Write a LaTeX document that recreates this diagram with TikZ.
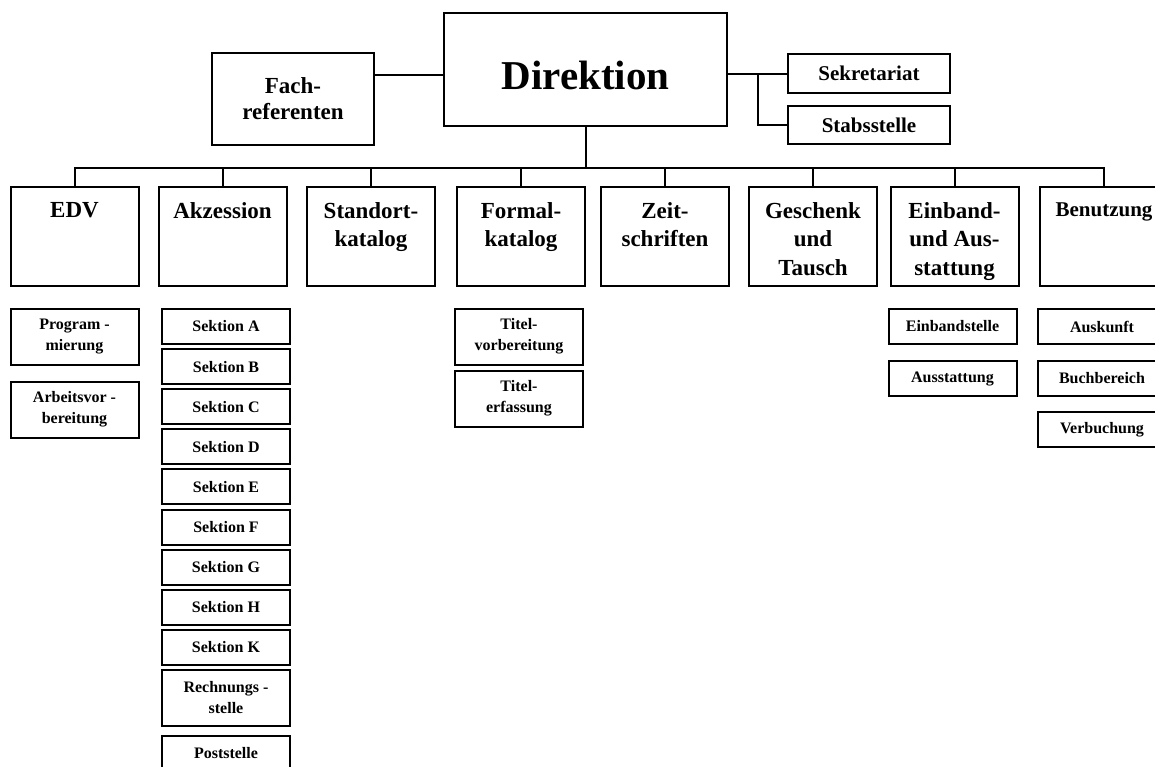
\documentclass[tikz,border=0pt]{standalone}
\usepackage{fontspec}
\setmainfont{Liberation Serif}
\usetikzlibrary{calc}
\begin{document}
\begin{tikzpicture}[x=0.5pt,y=-0.5pt,line width=1pt,
    box/.style={draw,inner sep=0pt,align=center,font=\bfseries},
    head/.style={box,minimum width=64pt,minimum height=49.5pt,
      label={[anchor=north,yshift=-7.7pt,align=center,inner sep=0pt,
        font=\fontsize{11.5}{14.25}\selectfont\bfseries]north:#1}},
    sub/.style={box,minimum width=64pt,minimum height=17.5pt,
      font=\fontsize{8}{10.5}\selectfont\bfseries},
    subtall/.style={sub,minimum height=28pt}]
  \useasboundingbox (0,0) rectangle (1155,766);

  % Leitung
  \node[box,minimum width=141.5pt,minimum height=56.5pt,text height=19.5pt,text depth=0pt,
    font=\fontsize{20.5}{24}\selectfont\bfseries] (dir) at (585.5,69.5) {Direktion};
  \node[box,minimum width=81pt,minimum height=46pt,
    font=\fontsize{11.5}{13}\selectfont\bfseries] (fach) at (293,99) {Fach-\\referenten};
  \node[box,minimum width=81pt,minimum height=19.5pt,
    font=\fontsize{10.5}{12}\selectfont\bfseries] (sekr) at (869,73.5) {Sekretariat};
  \node[box,minimum width=81pt,minimum height=19pt,
    font=\fontsize{10.5}{12}\selectfont\bfseries] (stab) at (869,125) {Stabsstelle};

  \draw ([yshift=-2.75pt]dir.west) -- ([yshift=-2.75pt]dir.west -| fach.east);
  \draw (dir.east |- sekr.west) -- (sekr.west);
  \coordinate (br) at ($(dir.east |- sekr.west)!0.5!(sekr.west)$);
  \draw (br) |- (stab.west);

  % Abteilungen
  \node[head={EDV}] (edv) at (74.5,236.5) {};
  \node[head={Akzession}] (akz) at (222.5,236.5) {};
  \node[head={Standort-\\katalog}] (std) at (371,236.5) {};
  \node[head={Formal-\\katalog}] (frm) at (521,236.5) {};
  \node[head={Zeit-\\schriften}] (zeit) at (665,236.5) {};
  \node[head={Geschenk\\und\\Tausch}] (ges) at (813,236.5) {};
  \node[head={Einband-\\und Aus-\\stattung}] (ein) at (954.5,236.5) {};
  \node[head={\fontsize{10.5}{12}\selectfont Benutzung}] (ben) at (1104,236.5) {};

  \draw (dir.south) -- ++(0,40.5) coordinate (bus);
  \draw (edv.north) |- (bus) -| (ben.north);
  \foreach \n in {akz,std,frm,zeit,ges,ein}
    \draw (\n.north) -- (\n.north |- bus);

  % Sachgebiete
  \node[subtall] (prog) at (74.5,337) {Program -\\mierung};
  \node[subtall] (arb) at (74.5,409.5) {Arbeitsvor -\\bereitung};

  \foreach \s [count=\i from 0] in {A,B,C,D,E,F,G,H,K}
    \node[sub] (akz\s) at (226,{326.5+40.1*\i}) {Sektion \s};
  \node[subtall] (rech) at (226,698) {Rechnungs -\\stelle};
  \node[sub] (post) at (226,753.5) {Poststelle};

  \node[subtall] (tvor) at (519,336.5) {Titel-\\vorbereitung};
  \node[subtall] (terf) at (519,398.5) {Titel-\\erfassung};

  \node[sub] (estl) at (952.5,326.5) {Einbandstelle};
  \node[sub] (aust) at (952.5,378.5) {Ausstattung};

  \node[sub] (ausk) at (1102,326.5) {Auskunft};
  \node[sub] (buch) at (1102,378) {Buchbereich};
  \node[sub] (verb) at (1102,429.5) {Verbuchung};
\end{tikzpicture}
\end{document}
